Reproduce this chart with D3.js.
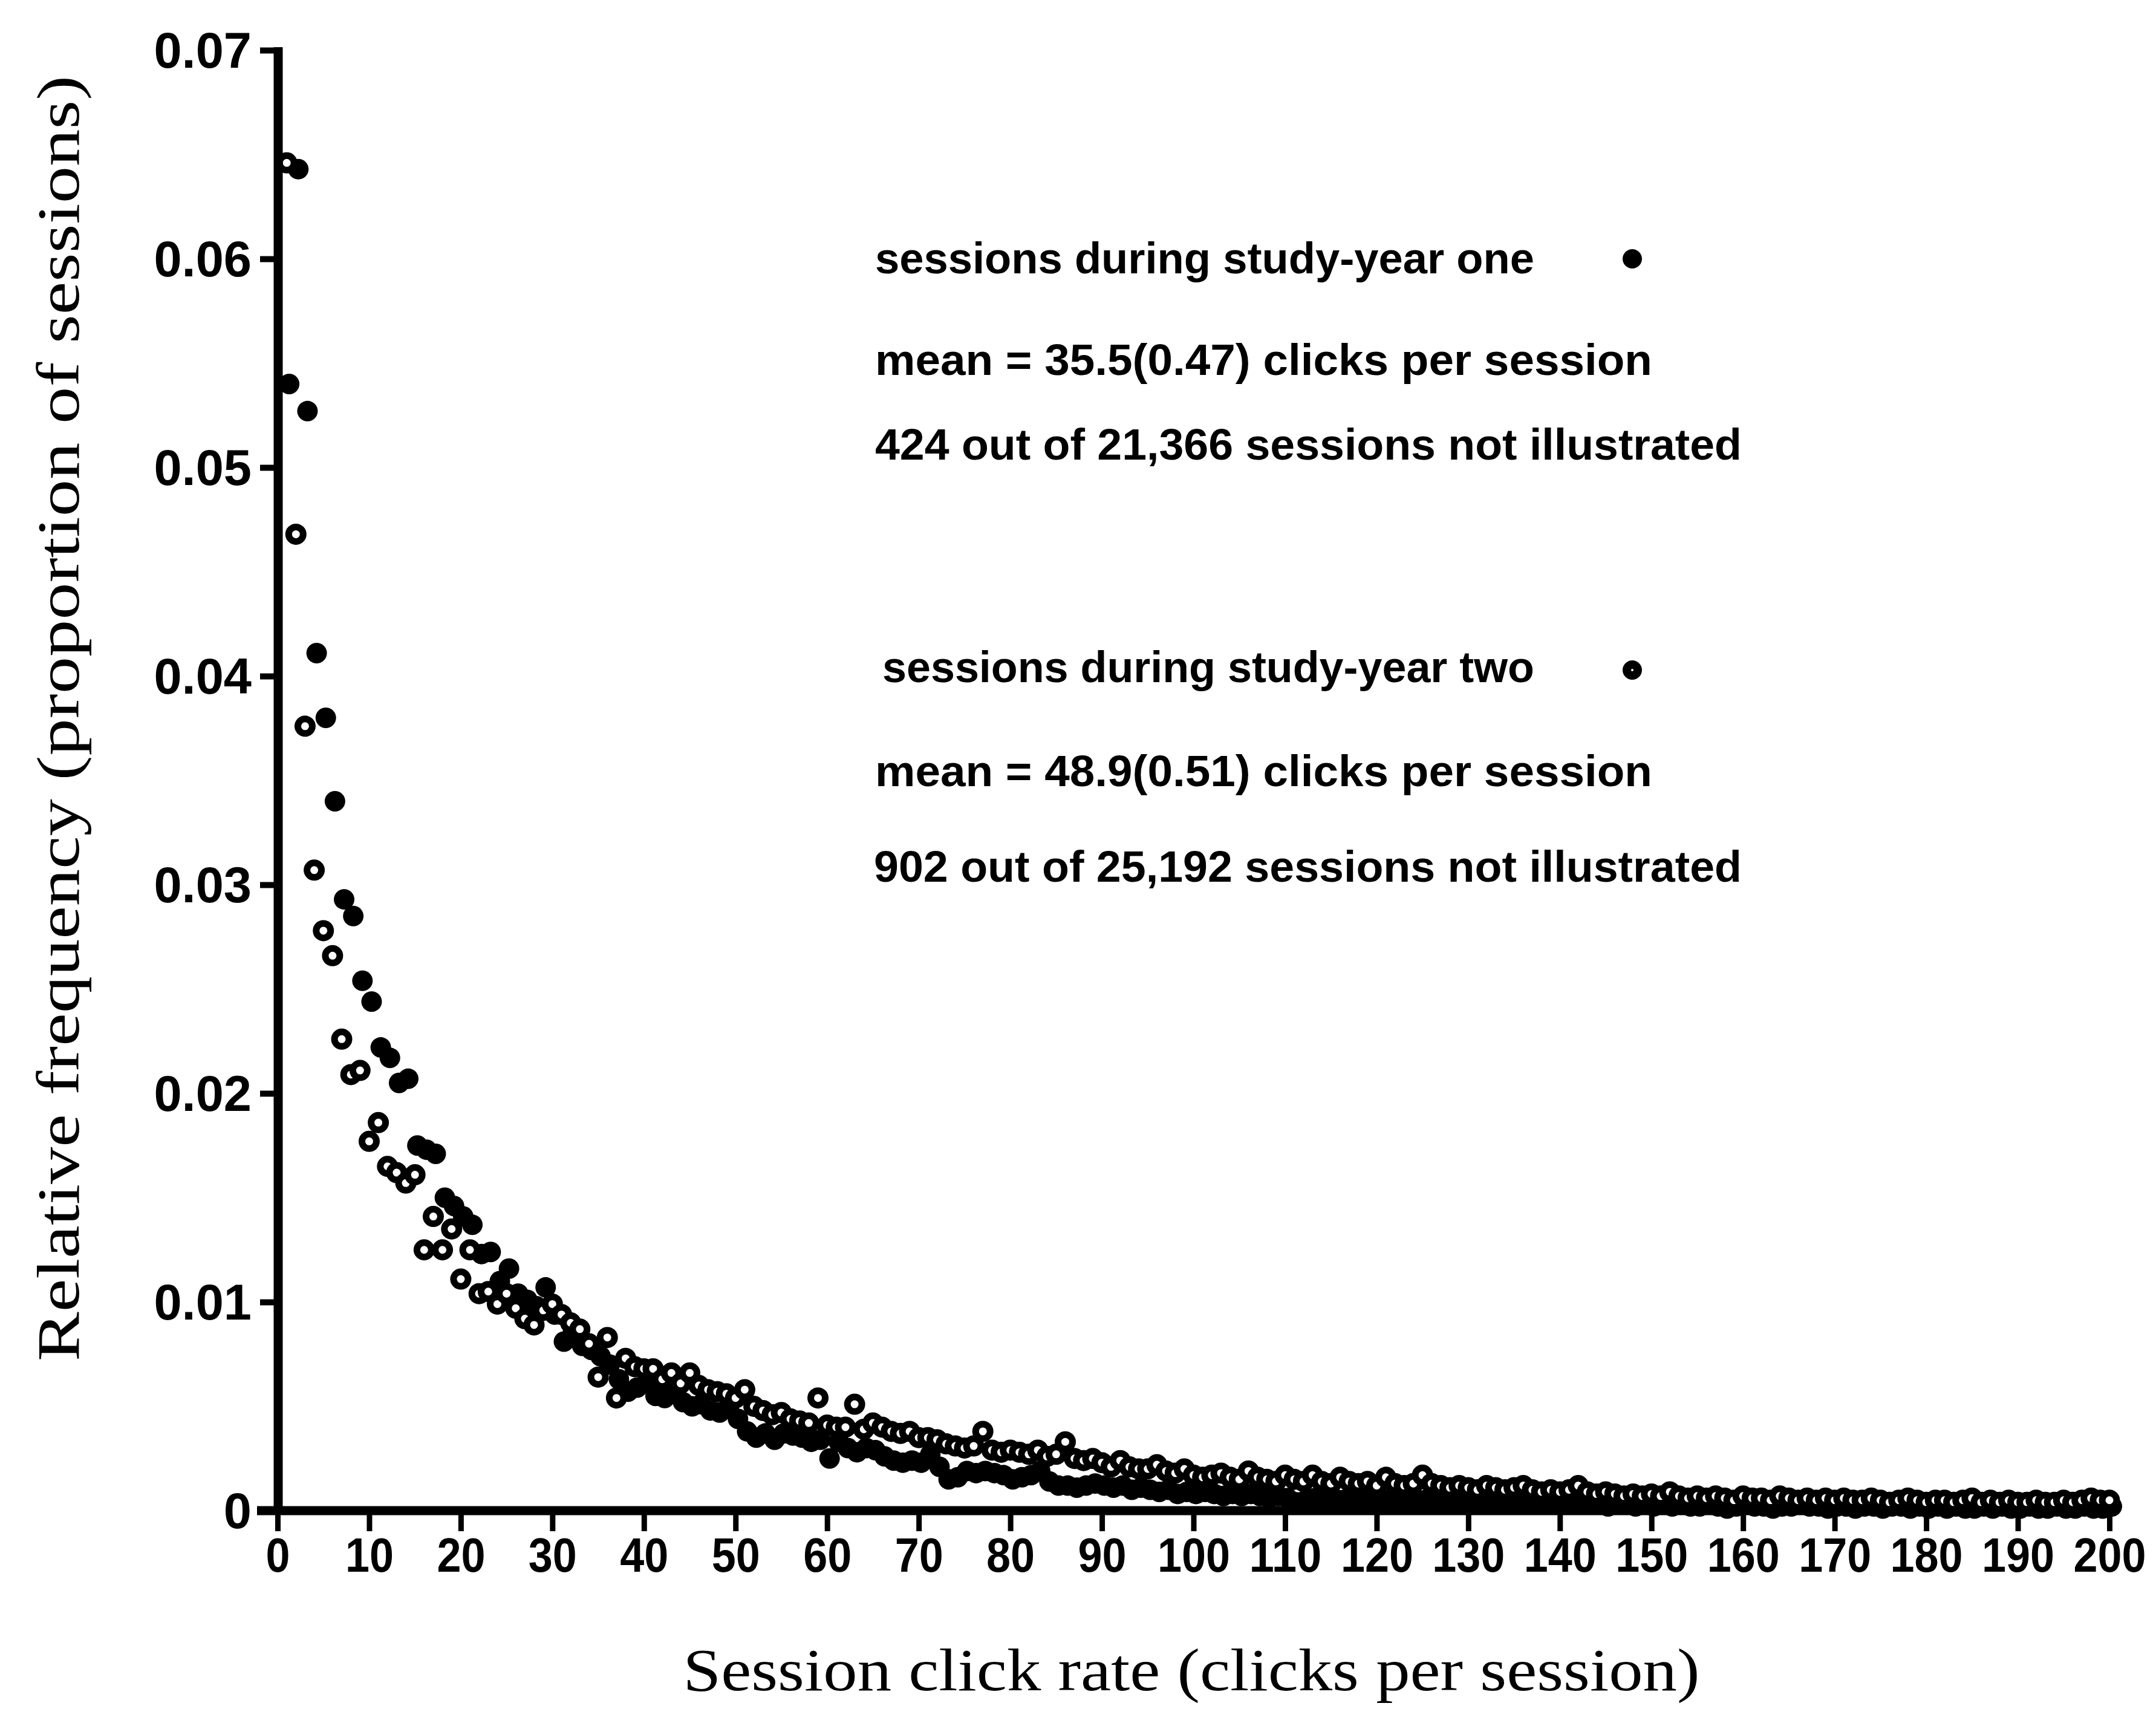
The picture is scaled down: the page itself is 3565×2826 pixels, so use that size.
<!DOCTYPE html>
<html>
<head>
<meta charset="utf-8">
<script src="https://cdn.jsdelivr.net/npm/d3@7"></script>
<style>
  html, body { margin: 0; padding: 0; background: #fff; }
  svg { display: block; }
</style>
</head>
<body>
<svg id="chart" width="3565" height="2826"></svg>
<script>
// Session click rate, 1..200 clicks per session
const clicks = d3.range(1, 201);

// Relative frequency, sessions during study-year one (filled dots)
const yearOne = [
  0.0540, 0.0643, 0.0527, 0.0411, 0.0380, 0.0340, 0.0293, 0.0285, 0.0254, 0.0244,
  0.0222, 0.0217, 0.0205, 0.0207, 0.0175, 0.0173, 0.0171, 0.0150, 0.0146, 0.0141,
  0.0137, 0.0123, 0.0124, 0.0110, 0.0116, 0.0104, 0.0101, 0.0098, 0.0107, 0.0094,
  0.0081, 0.0086, 0.0079, 0.0077, 0.0074, 0.0070, 0.0063, 0.0057, 0.0059, 0.0061,
  0.0055, 0.0054, 0.0058, 0.0052, 0.0050, 0.0051, 0.0048, 0.0047, 0.0049, 0.0044,
  0.0038, 0.0035, 0.0037, 0.0034, 0.0037, 0.0036, 0.0035, 0.0033, 0.0034, 0.0025,
  0.0033, 0.0030, 0.0028, 0.0030, 0.0029, 0.0026, 0.0024, 0.0023, 0.0024, 0.0023,
  0.0027, 0.0021, 0.0015, 0.0016, 0.0019, 0.0018, 0.0019, 0.0018, 0.0017, 0.0015,
  0.0016, 0.0017, 0.0019, 0.0014, 0.0012, 0.0012, 0.0011, 0.0012, 0.0013, 0.0012,
  0.0011, 0.0012, 0.0010, 0.0011, 0.0010, 0.0009, 0.0010, 0.0008, 0.0009, 0.0008,
  0.0009, 0.0008, 0.0007, 0.0008, 0.0007, 0.0008, 0.0007, 0.0006, 0.0007, 0.0006,
  0.0004, 0.0005, 0.0006, 0.0005, 0.0006, 0.0005, 0.0006, 0.0005, 0.0006, 0.0004,
  0.0005, 0.0006, 0.0005, 0.0004, 0.0005, 0.0004, 0.0005, 0.0004, 0.0005, 0.0004,
  0.0004, 0.0005, 0.0003, 0.0004, 0.0003, 0.0004, 0.0004, 0.0003, 0.0004, 0.0003,
  0.0004, 0.0003, 0.0004, 0.0003, 0.0002, 0.0003, 0.0003, 0.0002, 0.0003, 0.0002,
  0.0003, 0.0002, 0.0003, 0.0002, 0.0002, 0.0003, 0.0002, 0.0001, 0.0002, 0.0003,
  0.0002, 0.0002, 0.0001, 0.0002, 0.0002, 0.0003, 0.0002, 0.0002, 0.0001, 0.0002,
  0.0002, 0.0001, 0.0002, 0.0002, 0.0001, 0.0002, 0.0002, 0.0001, 0.0002, 0.0001,
  0.0002, 0.0001, 0.0002, 0.0001, 0.0001, 0.0002, 0.0001, 0.0002, 0.0001, 0.0001,
  0.0002, 0.0001, 0.0001, 0.0002, 0.0001, 0.0001, 0.0002, 0.0001, 0.0001, 0.0002
];

// Relative frequency, sessions during study-year two (open circles)
const yearTwo = [
  0.0646, 0.0468, 0.0376, 0.0307, 0.0278, 0.0266, 0.0226, 0.0209, 0.0211, 0.0177,
  0.0186, 0.0165, 0.0162, 0.0157, 0.0161, 0.0125, 0.0141, 0.0125, 0.0135, 0.0111,
  0.0125, 0.0104, 0.0105, 0.0099, 0.0104, 0.0097, 0.0092, 0.0089, 0.0096, 0.0099,
  0.0094, 0.0090, 0.0087, 0.0080, 0.0064, 0.0083, 0.0054, 0.0073, 0.0069, 0.0068,
  0.0068, 0.0063, 0.0066, 0.0061, 0.0066, 0.0060, 0.0058, 0.0057, 0.0056, 0.0054,
  0.0058, 0.0050, 0.0048, 0.0046, 0.0047, 0.0044, 0.0043, 0.0042, 0.0054, 0.0041,
  0.0040, 0.0040, 0.0051, 0.0039, 0.0042, 0.0040, 0.0038, 0.0037, 0.0038, 0.0035,
  0.0035, 0.0034, 0.0032, 0.0031, 0.0030, 0.0031, 0.0038, 0.0029, 0.0028, 0.0029,
  0.0028, 0.0027, 0.0029, 0.0026, 0.0027, 0.0033, 0.0025, 0.0024, 0.0025, 0.0023,
  0.0021, 0.0024, 0.0021, 0.0020, 0.0020, 0.0022, 0.0019, 0.0018, 0.0020, 0.0017,
  0.0016, 0.0017, 0.0018, 0.0016, 0.0015, 0.0019, 0.0016, 0.0015, 0.0014, 0.0017,
  0.0015, 0.0014, 0.0017, 0.0014, 0.0013, 0.0016, 0.0014, 0.0013, 0.0014, 0.0012,
  0.0016, 0.0013, 0.0012, 0.0013, 0.0017, 0.0013, 0.0012, 0.0011, 0.0012, 0.0011,
  0.0010, 0.0012, 0.0011, 0.0010, 0.0011, 0.0012, 0.0010, 0.0009, 0.0010, 0.0009,
  0.0010, 0.0012, 0.0009, 0.0008, 0.0009, 0.0008, 0.0007, 0.0008, 0.0007, 0.0008,
  0.0007, 0.0009, 0.0007, 0.0006, 0.0007, 0.0006, 0.0007, 0.0006, 0.0005, 0.0007,
  0.0006, 0.0006, 0.0005, 0.0007, 0.0006, 0.0005, 0.0006, 0.0005, 0.0006, 0.0005,
  0.0006, 0.0005, 0.0005, 0.0006, 0.0005, 0.0004, 0.0005, 0.0006, 0.0005, 0.0004,
  0.0005, 0.0005, 0.0004, 0.0005, 0.0006, 0.0004, 0.0005, 0.0004, 0.0005, 0.0004,
  0.0004, 0.0005, 0.0004, 0.0004, 0.0005, 0.0004, 0.0005, 0.0006, 0.0005, 0.0005
];

// Axis ticks and labels
const xTicks = d3.range(0, 201, 10);
const yTicks = [0, 0.01, 0.02, 0.03, 0.04, 0.05, 0.06, 0.07];
const yTickLabels = ["0", "0.01", "0.02", "0.03", "0.04", "0.05", "0.06", "0.07"];

const xTitle = "Session click rate (clicks per session)";
const yTitle = "Relative frequency (proportion of sessions)";

// Legend text blocks, one per study year
const legendYearOne = [
  "sessions during study-year one",
  "mean = 35.5(0.47) clicks per session",
  "424 out of 21,366 sessions not illustrated"
];
const legendYearTwo = [
  "sessions during study-year two",
  "mean = 48.9(0.51) clicks per session",
  "902 out of 25,192 sessions not illustrated"
];

// ---------------------------------------------------------------
const svg = d3.select("#chart");
svg.append("rect").attr("width", 3565).attr("height", 2826).attr("fill", "#fff");

const x = d3.scaleLinear().domain([0, 200]).range([459, 3488]);
const y = d3.scaleLinear().domain([0, 0.07]).range([2498, 83]);

const sans = "'Liberation Sans', Arial, Helvetica, sans-serif";
const serif = "'Liberation Serif', 'Times New Roman', Times, serif";

// Points
const g = svg.append("g");
const seriesOne = clicks.map((c, i) => ({ c, v: yearOne[i] }));
const seriesTwo = clicks.map((c, i) => ({ c, v: yearTwo[i] }));

g.append("g").selectAll("circle").data(seriesOne).join("circle")
  .attr("cx", d => x(d.c) + 4)
  .attr("cy", d => y(d.v))
  .attr("r", 17)
  .attr("fill", "#000");

g.append("g").selectAll("circle").data(seriesTwo).join("circle")
  .attr("cx", d => x(d.c))
  .attr("cy", d => y(d.v))
  .attr("r", 12)
  .attr("fill", "#fff")
  .attr("stroke", "#000")
  .attr("stroke-width", 11);

// X axis
const xAxis = d3.axisBottom(x)
  .tickValues(xTicks)
  .tickSize(34)
  .tickSizeOuter(0)
  .tickPadding(10)
  .tickFormat(d3.format("d"));
const gx = svg.append("g").attr("transform", "translate(0,2498)").call(xAxis);
gx.select(".domain").remove();
gx.selectAll(".tick line").attr("stroke", "#000").attr("stroke-width", 9);
gx.selectAll(".tick text")
  .attr("fill", "#000")
  .style("font-family", sans)
  .style("font-weight", "bold")
  .style("font-size", "80px")
  .attr("textLength", d => String(d).length * 40)
  .attr("lengthAdjust", "spacingAndGlyphs");

// Y axis
const yAxis = d3.axisLeft(y)
  .tickValues(yTicks)
  .tickSize(30)
  .tickSizeOuter(0)
  .tickPadding(14)
  .tickFormat((d, i) => yTickLabels[i]);
const gy = svg.append("g").attr("transform", "translate(460,0)").call(yAxis);
gy.select(".domain").remove();
gy.selectAll(".tick line").attr("stroke", "#000").attr("stroke-width", 10);
gy.selectAll(".tick text")
  .attr("fill", "#000")
  .attr("dy", "0.34em")
  .style("font-family", sans)
  .style("font-weight", "bold")
  .style("font-size", "83px");

// Heavy axis lines
svg.append("line")
  .attr("x1", 460).attr("x2", 460)
  .attr("y1", y(0.07) - 5).attr("y2", y(0) + 7)
  .attr("stroke", "#000").attr("stroke-width", 15);
svg.append("line")
  .attr("x1", 425).attr("x2", x(200) + 8)
  .attr("y1", y(0)).attr("y2", y(0))
  .attr("stroke", "#000").attr("stroke-width", 15);

// Axis titles
svg.append("text")
  .attr("x", 1970).attr("y", 2795)
  .attr("text-anchor", "middle")
  .attr("textLength", 1681)
  .attr("lengthAdjust", "spacingAndGlyphs")
  .style("font-family", serif)
  .style("font-size", "100px")
  .text(xTitle);

svg.append("text")
  .attr("transform", "translate(130,1188) rotate(-90)")
  .attr("text-anchor", "middle")
  .attr("textLength", 2126)
  .attr("lengthAdjust", "spacingAndGlyphs")
  .style("font-family", serif)
  .style("font-size", "100px")
  .text(yTitle);

// Legend
function legendBlock(lines, xs, baselines, widths) {
  lines.forEach((t, i) => {
    svg.append("text")
      .attr("x", xs[i]).attr("y", baselines[i])
      .attr("textLength", widths[i])
      .attr("lengthAdjust", "spacingAndGlyphs")
      .style("font-family", sans)
      .style("font-weight", "bold")
      .style("font-size", "72px")
      .text(t);
  });
}
legendBlock(legendYearOne, [1447, 1447, 1447], [452, 620, 760], [1090, 1285, 1433]);
legendBlock(legendYearTwo, [1459, 1447, 1445], [1128, 1300, 1458], [1078, 1285, 1435]);

svg.append("circle").attr("cx", 2699).attr("cy", 428).attr("r", 16).attr("fill", "#000");
svg.append("circle").attr("cx", 2699).attr("cy", 1108).attr("r", 9)
  .attr("fill", "#fff").attr("stroke", "#000").attr("stroke-width", 14);
</script>
</body>
</html>
